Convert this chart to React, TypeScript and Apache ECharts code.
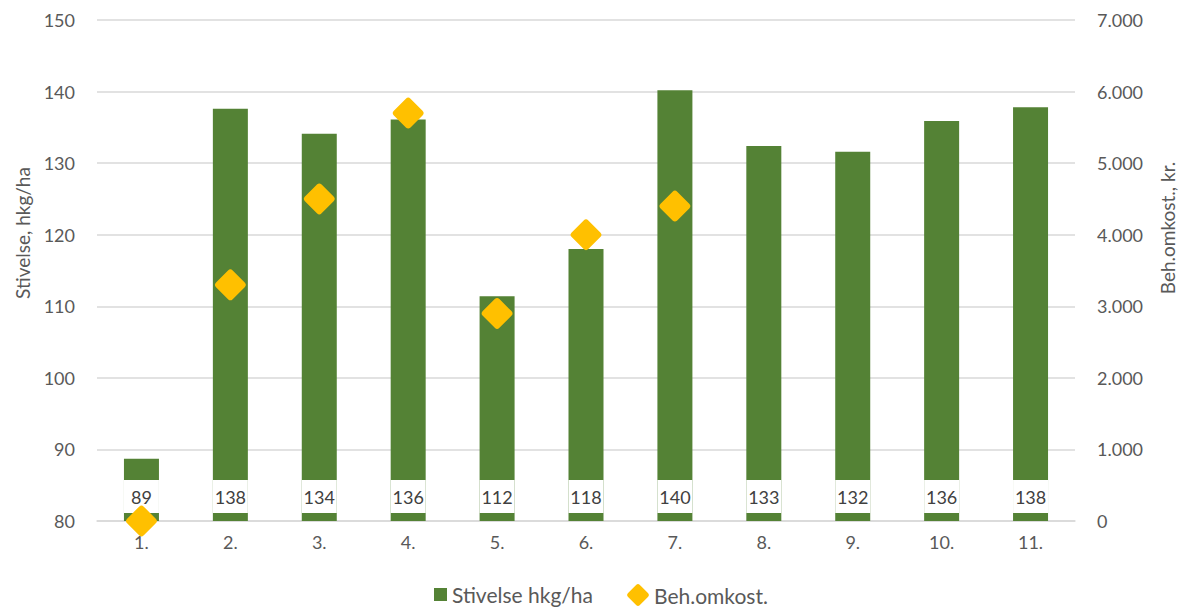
import React, { useEffect, useRef } from "react";
import * as echarts from "echarts";

const categories = ["1.", "2.", "3.", "4.", "5.", "6.", "7.", "8.", "9.", "10.", "11."];
const stivelse = [88.7, 137.6, 134.1, 136.1, 111.4, 118.0, 140.2, 132.4, 131.6, 135.9, 137.8];
const stivelseLabels = ["89", "138", "134", "136", "112", "118", "140", "133", "132", "136", "138"];
const behOmkost: (number | null)[] = [0, 3300, 4500, 5700, 2900, 4000, 4400, null, null, null, null];
const leftTicks = [80, 150, 10];
const rightTicks = [0, 7000, 1000];

const FONT = "Lato";
const TXT = "#595959";
const diamond =
  "path://M4.3,0.7 Q5,0 5.7,0.7 L9.3,4.3 Q10,5 9.3,5.7 L5.7,9.3 Q5,10 4.3,9.3 L0.7,5.7 Q0,5 0.7,4.3 Z";

export default function App() {
  const ref = useRef<HTMLDivElement>(null);
  useEffect(() => {
    if (!ref.current) return;
    const chart = echarts.init(ref.current, null, { renderer: "svg" });
    const legendText = { fontFamily: FONT, fontSize: 21, color: TXT };
    chart.setOption({
      animation: false,
      textStyle: { fontFamily: FONT },
      grid: { left: 97, right: 106, top: 20, bottom: 87 },
      legend: [
        {
          top: 584,
          left: 434,
          padding: 0,
          itemGap: 8,
          textStyle: legendText,
          data: [{ name: "Stivelse hkg/ha", icon: "rect", itemStyle: { color: "#548235" } }],
          itemWidth: 13,
          itemHeight: 13,
        },
        {
          top: 584,
          left: 627,
          padding: 0,
          textStyle: legendText,
          data: [{ name: "Beh.omkost.", icon: diamond, itemStyle: { color: "#FFC000", opacity: 1 } }],
          itemWidth: 22,
          itemHeight: 22,
        },
      ],
      xAxis: {
        type: "category",
        data: categories,
        axisLine: { lineStyle: { color: "#d9d9d9", width: 1.5 } },
        axisTick: { show: false },
        axisLabel: { color: TXT, fontSize: 18, fontFamily: FONT, margin: 12 },
      },
      yAxis: [
        {
          type: "value",
          min: leftTicks[0],
          max: leftTicks[1],
          interval: leftTicks[2],
          axisLine: { show: false },
          axisTick: { show: false },
          splitLine: { lineStyle: { color: "#d9d9d9", width: 1.5 } },
          axisLabel: { color: TXT, fontSize: 18, fontFamily: FONT, margin: 22 },
        },
        {
          type: "value",
          min: rightTicks[0],
          max: rightTicks[1],
          interval: rightTicks[2],
          axisLine: { show: false },
          axisTick: { show: false },
          splitLine: { show: false },
          axisLabel: {
            color: TXT,
            fontSize: 18,
            fontFamily: FONT,
            margin: 22,
            formatter: (v: number) => (v === 0 ? "0" : v.toLocaleString("de-DE")),
          },
        },
      ],
      graphic: [
        {
          type: "text",
          x: 22,
          y: 233,
          rotation: Math.PI / 2,
          style: {
            text: "Stivelse, hkg/ha",
            fontFamily: FONT,
            fontSize: 19,
            fill: TXT,
            align: "center",
            verticalAlign: "middle",
          },
        },
        {
          type: "text",
          x: 1167,
          y: 228,
          rotation: Math.PI / 2,
          style: {
            text: "Beh.omkost., kr.",
            fontFamily: FONT,
            fontSize: 19,
            fill: TXT,
            align: "center",
            verticalAlign: "middle",
          },
        },
      ],
      series: [
        {
          name: "Stivelse hkg/ha",
          type: "bar",
          data: stivelse,
          barWidth: 35,
          itemStyle: { color: "#548235" },
          label: {
            show: true,
            position: "insideBottom",
            distance: 8,
            formatter: (p: any) => stivelseLabels[p.dataIndex],
            backgroundColor: "#ffffff",
            width: 35,
            align: "center",
            padding: [7, 0, 6, 0],
            lineHeight: 20,
            color: "#404040",
            fontSize: 18,
            fontFamily: FONT,
          },
        },
        {
          name: "Beh.omkost.",
          type: "scatter",
          yAxisIndex: 1,
          data: behOmkost,
          symbol: diamond,
          symbolSize: 31,
          itemStyle: { color: "#FFC000", opacity: 1 },
          z: 5,
        },
      ],
    });
    return () => chart.dispose();
  }, []);
  return (
    <div
      ref={ref}
      style={{ position: "absolute", left: 0, top: 0, width: 1181, height: 608 }}
    />
  );
}
